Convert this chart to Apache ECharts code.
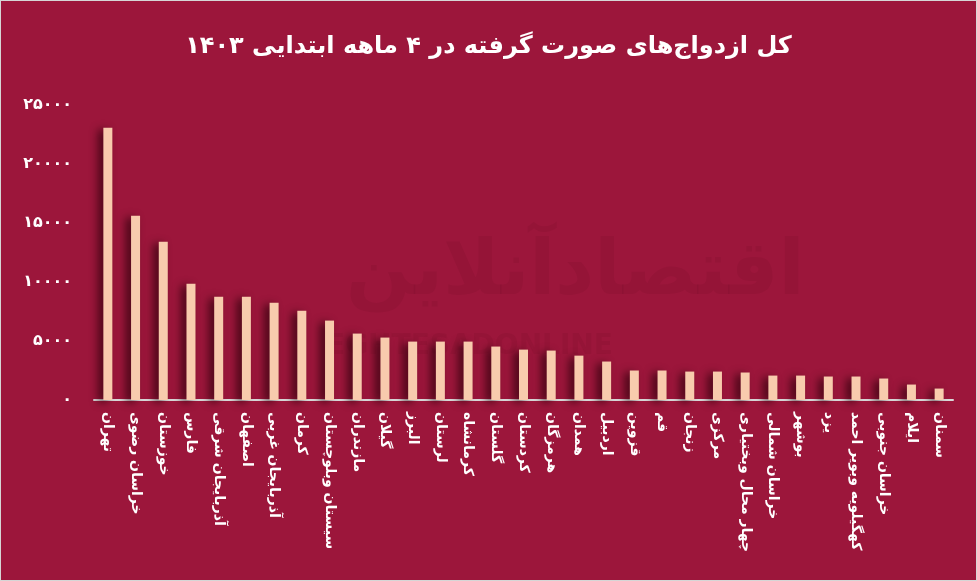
<!DOCTYPE html>
<html><head><meta charset="utf-8">
<script src="https://cdn.jsdelivr.net/npm/echarts@6/dist/echarts.min.js"></script>
<style>html,body{margin:0;padding:0;background:#fff}#c{width:975px;height:579px;border:1px solid #d6d6d6;}</style>
</head><body><div id="c"></div>
<script>
const titleText = 'کل ازدواج‌های صورت گرفته در ۴ ماهه ابتدایی ۱۴۰۳';
const categories = ['تهران','خراسان رضوی','خوزستان','فارس','آذربایجان شرقی','اصفهان','آذربایجان غربی','کرمان','سیستان وبلوچستان','مازندران','گیلان','البرز','لرستان','کرمانشاه','گلستان','کردستان','هرمزگان','همدان','اردبیل','قزوین','قم','زنجان','مرکزی','چهار محال وبختیاری','خراسان شمالی','بوشهر','یزد','کهگیلویه وبویر احمد','خراسان جنوبی','ایلام','سمنان'];
const values = [23080,15610,13410,9860,8760,8760,8250,7570,6730,5630,5290,4950,4950,4950,4530,4270,4190,3760,3260,2500,2500,2410,2410,2330,2070,2070,1990,1990,1820,1310,970];
const yTicks = [0,5000,10000,15000,20000,25000];
const faDigits = ['۰','۱','۲','۳','۴','۵','۶','۷','۸','۹'];
const toFa = v => String(v).replace(/\d/g, d => faDigits[d]);
const chart = echarts.init(document.getElementById('c'));
chart.setOption({
  backgroundColor: '#9C163B',
  animation: false,
  title: { text: titleText, left: 'center', top: 29, textStyle: { color: '#fff', fontSize: 24, fontWeight: 'bold', fontFamily: 'DejaVu Sans' } },
  grid: { left: 93, right: 23, top: 104, bottom: 180 },
  xAxis: { type: 'category', data: categories,
    axisLine: { lineStyle: { color: '#d9d9d9', width: 2 } }, axisTick: { show: false },
    axisLabel: { rotate: -90, interval: 0, color: '#fff', fontSize: 14, fontWeight: 'bold', fontFamily: 'DejaVu Sans', margin: 12 } },
  yAxis: { type: 'value', min: yTicks[0], max: yTicks[yTicks.length-1], interval: 5000,
    splitLine: { show: false }, axisLine: { show: false }, axisTick: { show: false },
    axisLabel: { color: '#fff', fontSize: 16, fontWeight: 'bold', fontFamily: 'DejaVu Sans', margin: 22, formatter: v => toFa(v) } },
  graphic: [{ type: 'text', left: 325, top: 332, silent: true, z: 0,
    style: { text: 'EGHTESADONLINE', fill: 'rgba(60,0,20,0.07)', font: 'bold 28px "DejaVu Sans"' } },
    { type: 'text', left: 345, top: 235, silent: true, z: 0,
    style: { text: 'اقتصادآنلاین', fill: 'rgba(60,0,20,0.07)', font: 'bold 76px "DejaVu Sans"' } }],
  series: [{ type: 'bar', data: values, barWidth: 9,
    itemStyle: { color: '#F8CBAD', shadowColor: 'rgba(40,0,10,0.75)', shadowBlur: 8, shadowOffsetX: -5, shadowOffsetY: 2 } }]
});
</script></body></html>
